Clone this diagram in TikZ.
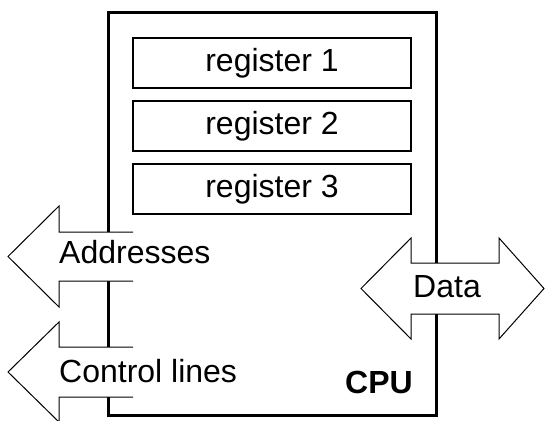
\documentclass[tikz,border=0pt]{standalone}
\usepackage{fontspec}
\setmainfont{Liberation Sans}
\begin{document}
\begin{tikzpicture}[x=1pt,y=-1pt,
  lbl/.style={font=\fontsize{32}{35}\selectfont, inner sep=0pt},
  regbox/.style={draw, line width=1.3pt, minimum width=278pt, minimum height=50pt, inner sep=0pt, font=\fontsize{32}{35}\selectfont},
  cpubox/.style={draw, line width=3pt},
  arrowline/.style={line width=1pt, line join=miter}]
\useasboundingbox (0,0) rectangle (545,420);
% CPU box
\draw[cpubox] (108.5,13) rectangle (436.5,415.5);
% registers
\node[regbox] (r1) at (272,63) {register 1};
\node[regbox] (r2) at (272,126) {register 2};
\node[regbox] (r3) at (272,189) {register 3};
% Addresses arrow
\fill[white] (133,232) -- (59,232) -- (59,206) -- (8,256.5) -- (59,307) -- (59,281) -- (133,281) -- cycle;
\draw[arrowline] (133,232) -- (59,232) -- (59,206) -- (8,256.5) -- (59,307) -- (59,281) -- (133,281);
% Control lines arrow
\fill[white] (133,347) -- (59,347) -- (59,322) -- (8,372) -- (59,422) -- (59,397) -- (133,397) -- cycle;
\draw[arrowline] (133,347) -- (59,347) -- (59,322) -- (8,372) -- (59,422) -- (59,397) -- (133,397);
% Data arrow
\filldraw[arrowline, fill=white] (411,263) -- (411,238) -- (361,288.5) -- (411,339) -- (411,314) -- (499,314) -- (499,339) -- (544,288.5) -- (499,238) -- (499,263) -- cycle;
% labels
\node[lbl, anchor=base west] (addr) at (59,263) {Addresses};
\node[lbl, anchor=base west] (ctrl) at (59,382) {Control lines};
\node[lbl, anchor=base west] (data) at (413,297) {Data};
\node[lbl, anchor=base west, font=\fontsize{32}{35}\selectfont\bfseries] (cpu) at (345,393) {CPU};
\end{tikzpicture}
\end{document}
